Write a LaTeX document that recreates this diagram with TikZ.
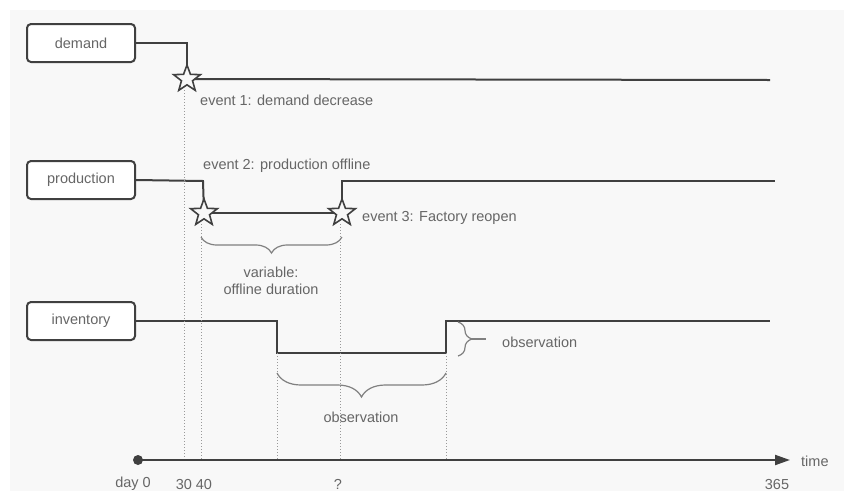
\documentclass[tikz,border=0pt]{standalone}
\usepackage{fontspec}
\setmainfont{Liberation Sans}
\usetikzlibrary{shapes.geometric,decorations.pathreplacing,arrows.meta}
\definecolor{bgc}{HTML}{F8F8F8}
\definecolor{ln}{HTML}{404040}
\definecolor{tx}{HTML}{666666}
\pgfdeclarelayer{bglayer}
\pgfdeclarelayer{linelayer}
\pgfsetlayers{bglayer,linelayer,main}
\begin{document}
\begin{tikzpicture}[x=1pt,y=-1pt, font=\fontsize{14.5}{17}\selectfont,
  box/.style={draw=ln, line width=2pt, rounded corners=4pt, fill=white, minimum width=108pt, minimum height=38pt, inner sep=0, text=tx},
  evstar/.style={star, star points=5, star point ratio=2.4, minimum size=28pt, inner sep=0, draw=ln, line width=1.6pt, fill=bgc},
  sig/.style={draw=ln, line width=2pt},
  guide/.style={draw=gray!80, dotted, line width=1pt},
  brc/.style={draw=gray, line width=1.2pt, decorate, decoration={brace, amplitude=#1}},
  lbl/.style={inner sep=0, text=tx}]
\useasboundingbox (0,0) rectangle (844,491);
\begin{pgfonlayer}{bglayer}
\fill[white] (0,0) rectangle (844,491);
\fill[bgc] (10,10) rectangle (844,491);
\end{pgfonlayer}

% boxes
\node[box] (demand) at (81,43) {demand};
\node[box] (production) at (81,180) {production};
\node[box] (inventory) at (81,321) {inventory};

% stars
\node[evstar] (s1) at (187,79) {};
\node[evstar] (s2) at (204,213) {};
\node[evstar] (s3) at (342,213) {};

% coordinates
\coordinate (d1) at (187,43);
\coordinate (dend) at (770,80);
\coordinate (p1) at (203,181);
\coordinate (p2) at (342,181);
\coordinate (pend) at (775,181);
\coordinate (i1) at (277,321);
\coordinate (i2) at (277,353);
\coordinate (i3) at (446,353);
\coordinate (i4) at (446,321);
\coordinate (iend) at (770,321);
\coordinate (ax0) at (138,460);
\coordinate (ax1) at (790,460);

\begin{pgfonlayer}{linelayer}
\draw[sig] (demand.east) -- (d1) -- (s1.center);
\draw[sig] (s1.center) -- (dend);
\draw[sig] (production.east) -- (p1) -- (s2.center);
\draw[sig] (s2.center) -- (s3.center);
\draw[sig] (s3.center) -- (p2) -- (pend);
\draw[sig] (inventory.east) -- (i1) -- (i2) -- (i3) -- (i4) -- (iend);
% guides
\draw[guide] (184,90) -- (184,460);
\draw[guide] (201,224) -- (201,460);
\draw[guide] (340,224) -- (340,460);
\draw[guide] (i2) -- (277,460);
\draw[guide] (i3) -- (446,460);
\end{pgfonlayer}

% axis
\draw[sig, -{Triangle[length=15pt,width=10pt]}] (ax0) -- (ax1);
\fill[ln] (ax0) circle (5pt);
\node[lbl, anchor=west] (time) at (801,461) {time};
\node[lbl] (t0) at (133,484) {day 0};
\node[lbl] (t30) at (184,484) {30};
\node[lbl] (t40) at (204,484) {40};
\node[lbl] (tq) at (338,484) {?};
\node[lbl] (t365) at (777,484) {365};

% event labels
\node[lbl, anchor=west] (e1) at (200,100) {event 1: demand decrease};
\node[lbl, anchor=west] (e2) at (203,166) {event 2: production offline};
\node[lbl, anchor=west] (e3) at (362,218) {event 3: Factory reopen};

% braces
\draw[brc=16] (342,237) -- (201,237);
\node[lbl, align=center] (var) at (271,281) {variable:\\offline duration};
\draw[brc=24] (446,373) -- (277,373);
\node[lbl] (obs1) at (361,417) {observation};
\draw[brc=14] (458,322) -- (458,356);
\coordinate (bt) at (472,339);
\coordinate (bt2) at (486,339);
\draw[draw=gray, line width=1.2pt] (bt) -- (bt2);
\node[lbl, anchor=west] (obs2) at (502,342) {observation};
\end{tikzpicture}
\end{document}
